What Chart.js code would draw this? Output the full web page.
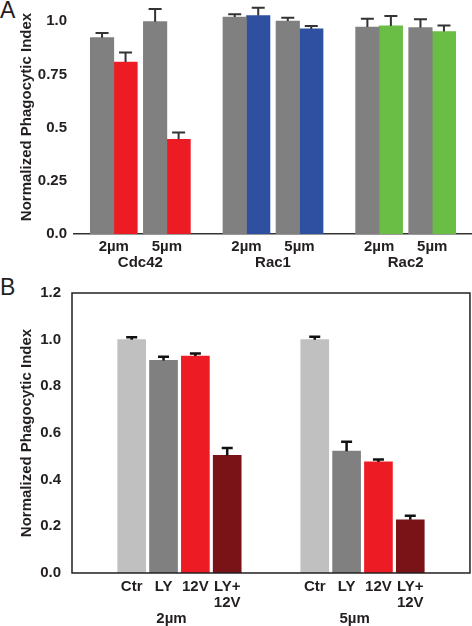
<!DOCTYPE html>
<html>
<head>
<meta charset="utf-8">
<script src="https://cdn.jsdelivr.net/npm/chart.js@4.4.1/dist/chart.umd.min.js"></script>
<style>
  body { margin: 0; background: #fff; width: 472px; height: 626px; position: relative; overflow: hidden; }
  .panel { position: absolute; left: 0; }
  .tag { position: absolute; left: 0; font: 23px 'Liberation Sans', Arial, sans-serif; color: #231f20; }
</style>
</head>
<body>
<div class="tag" style="top:-3px;">A</div>
<div class="tag" style="top:274px;">B</div>
<div class="panel" style="top:-16px; width:472px; height:296px;"><canvas id="chartA"></canvas></div>
<div class="panel" style="top:273px; width:472px; height:360px;"><canvas id="chartB"></canvas></div>
<script>
// Panel A data
const groupsA = ['Cdc42', 'Rac1', 'Rac2'];
const sizesA = ['2µm', '5µm'];
const controlA = [0.923, 0.998, 1.020, 1.001, 0.973, 0.970];
const controlErrA = [0.022, 0.060, 0.013, 0.016, 0.039, 0.039];
const knockdownA = [0.808, 0.445, 1.027, 0.964, 0.978, 0.952];
const knockdownErrA = [0.045, 0.032, 0.037, 0.014, 0.047, 0.028];
const knockdownColorsA = ['#ed1c24', '#ed1c24', '#2f4fa0', '#2f4fa0', '#6abd45', '#6abd45'];
const yTicksA = [0, 0.25, 0.5, 0.75, 1.0];

// Panel B data
const conditionsB = ['Ctr', 'LY', '12V', ['LY+', '12V']];
const sizesB = ['2µm', '5µm'];
const values2um = [1.0, 0.911, 0.930, 0.504];
const err2um = [0.010, 0.016, 0.011, 0.032];
const values5um = [1.0, 0.522, 0.476, 0.228];
const err5um = [0.013, 0.041, 0.010, 0.017];
const colorsB = ['#c0c0c0', '#808080', '#ed1c24', '#7a1317'];

Chart.defaults.font.family = "'Liberation Sans', Arial, sans-serif";
Chart.defaults.font.size = 15;
Chart.defaults.font.weight = 'bold';
Chart.defaults.color = '#231f20';

// category slots (spacers keep the uneven gaps between groups)
const slotsA = 15;
const pairSlotsA = [1, 3, 6, 8, 11, 13];
const groupSlotsA = [2, 7, 12];
const slotsB = 50;
const barSlotsB = [[7, 11, 15, 19], [30, 34, 38, 42]];
const sizeSlotsB = [12, 35];

function blank(n, v) { return Array.from({ length: n }, () => v); }

const labelsA = blank(slotsA, '');
const grayA = blank(slotsA, null), grayErrA = blank(slotsA, null);
const colA = blank(slotsA, null), colErrA = blank(slotsA, null), colColA = blank(slotsA, '#000');
pairSlotsA.forEach((s, i) => {
    labelsA[s] = sizesA[i % 2];
    grayA[s] = controlA[i]; grayErrA[s] = controlErrA[i];
    colA[s] = knockdownA[i]; colErrA[s] = knockdownErrA[i]; colColA[s] = knockdownColorsA[i];
});
groupSlotsA.forEach((s, i) => { labelsA[s] = ['', groupsA[i]]; });

const labelsB = blank(slotsB, '');
const dataB = blank(slotsB, null), errB = blank(slotsB, null), colB = blank(slotsB, '#000');
[[values2um, err2um], [values5um, err5um]].forEach(([vals, errs], g) => {
    barSlotsB[g].forEach((s, i) => {
        labelsB[s] = conditionsB[i];
        dataB[s] = vals[i]; errB[s] = errs[i]; colB[s] = colorsB[i];
    });
    labelsB[sizeSlotsB[g]] = ['', '', sizesB[g]];
});

// upward error bars with a cap
const errorBars = {
    id: 'errorBars',
    afterDatasetsDraw(chart, args, opts) {
        const ctx = chart.ctx, y = chart.scales.y;
        ctx.save();
        ctx.strokeStyle = opts.color;
        ctx.lineWidth = opts.width;
        chart.data.datasets.forEach((ds, di) => {
            if (!ds.errors) return;
            chart.getDatasetMeta(di).data.forEach((bar, i) => {
                if (ds.data[i] == null) return;
                const top = y.getPixelForValue(ds.data[i] + ds.errors[i]);
                ctx.beginPath();
                ctx.moveTo(bar.x, bar.y);
                ctx.lineTo(bar.x, top);
                ctx.moveTo(bar.x - opts.cap / 2, top);
                ctx.lineTo(bar.x + opts.cap / 2, top);
                ctx.stroke();
            });
        });
        ctx.restore();
    }
};

const frameBox = {
    id: 'frameBox',
    afterDraw(chart) {
        const a = chart.chartArea, ctx = chart.ctx;
        ctx.save();
        ctx.strokeStyle = '#231f20';
        ctx.lineWidth = 1.5;
        ctx.strokeRect(a.left, a.top, a.right - a.left, a.bottom - a.top);
        ctx.restore();
    }
};

const yTitle = {
    display: true,
    text: 'Normalized Phagocytic Index',
    font: { size: 15, weight: 'bold' },
    padding: { top: 1.6, bottom: 0 },
    color: '#231f20'
};

new Chart(document.getElementById('chartA'), {
    type: 'bar',
    data: {
        labels: labelsA,
        datasets: [
            { data: grayA, errors: grayErrA, backgroundColor: '#808080', barThickness: 23.5 },
            { data: colA, errors: colErrA, backgroundColor: colColA, barThickness: 23.5 }
        ]
    },
    plugins: [errorBars],
    options: {
        responsive: true,
        maintainAspectRatio: false,
        animation: false,
        layout: { padding: { left: 16, right: 0, top: 0, bottom: 4 } },
        plugins: {
            legend: { display: false },
            tooltip: { enabled: false },
            errorBars: { color: '#333', width: 2, cap: 13 }
        },
        scales: {
            x: {
                grid: { display: false, drawTicks: false },
                border: { display: true, color: '#333', width: 1.5 },
                ticks: { autoSkip: false, maxRotation: 0, minRotation: 0, padding: 5, font: { lineHeight: 1.067 } }
            },
            y: {
                min: 0,
                max: 1.1,
                afterBuildTicks: s => { s.ticks = yTicksA.map(v => ({ value: v })); },
                afterFit: s => { s.width = 58; },
                grid: { display: false, drawTicks: false },
                border: { display: false },
                ticks: {
                    padding: 7,
                    callback: v => (v === 0 || v === 1) ? v.toFixed(1) : String(v)
                },
                title: yTitle
            }
        }
    }
});

new Chart(document.getElementById('chartB'), {
    type: 'bar',
    data: {
        labels: labelsB,
        datasets: [
            { data: dataB, errors: errB, backgroundColor: colB, barThickness: 28 }
        ]
    },
    plugins: [errorBars, frameBox],
    options: {
        responsive: true,
        maintainAspectRatio: false,
        animation: false,
        layout: { padding: { left: 16, right: 1, top: 13, bottom: 0 } },
        plugins: {
            legend: { display: false },
            tooltip: { enabled: false },
            errorBars: { color: '#111', width: 2.5, cap: 11 }
        },
        scales: {
            x: {
                grid: { display: false, drawTicks: false },
                border: { display: false },
                ticks: { autoSkip: false, maxRotation: 0, minRotation: 0, padding: 6, font: { lineHeight: 1.067 } }
            },
            y: {
                min: 0,
                max: 1.2,
                afterFit: s => { s.width = 56; },
                grid: { display: false, drawTicks: false },
                border: { display: false },
                ticks: { stepSize: 0.2, padding: 11, callback: v => v.toFixed(1) },
                title: yTitle
            }
        }
    }
});
</script>
</body>
</html>
